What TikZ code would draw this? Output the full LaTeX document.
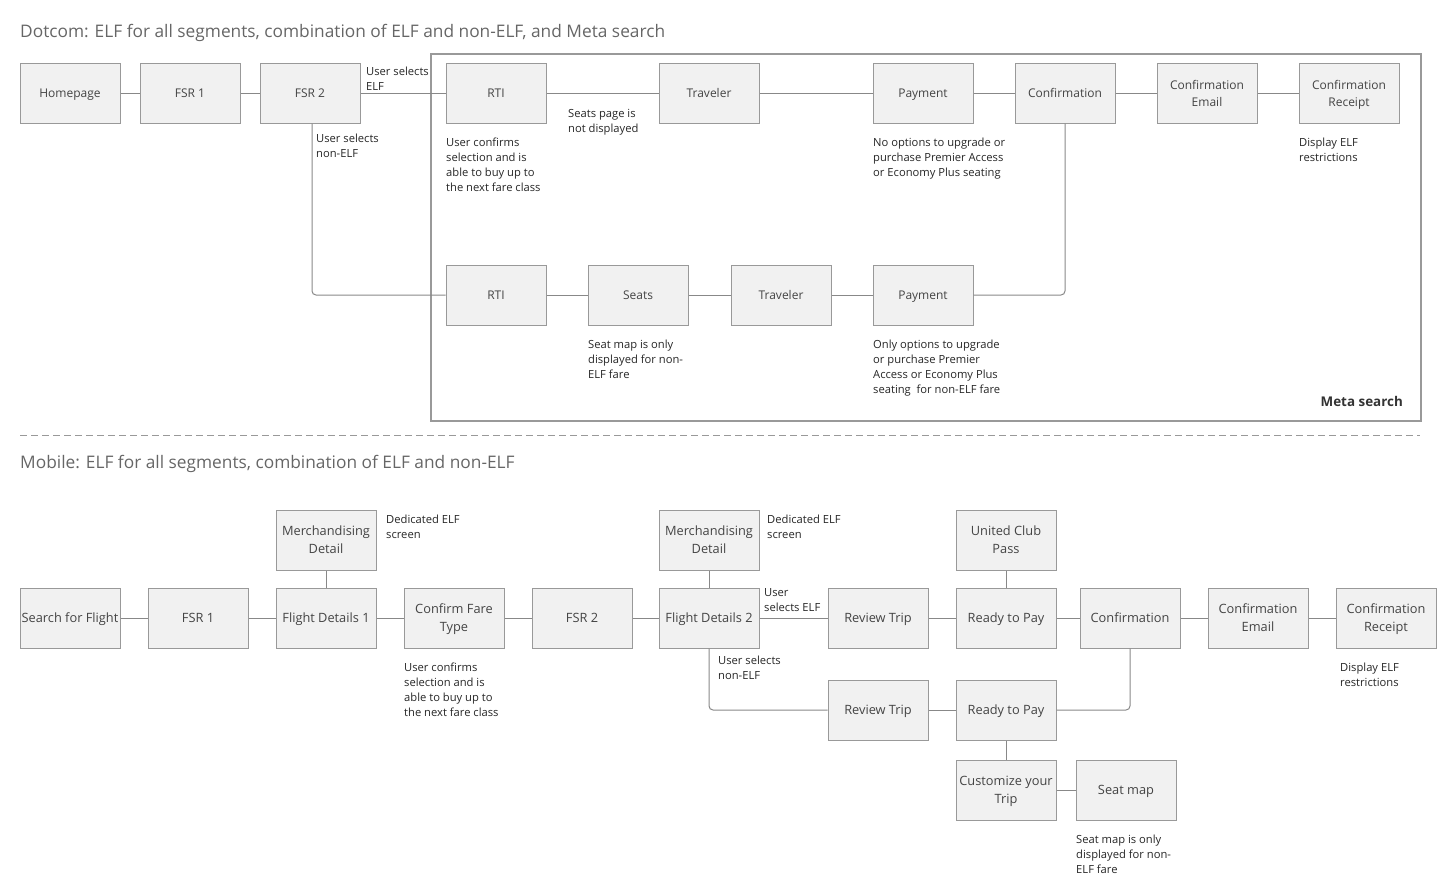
\documentclass[tikz,border=0pt]{standalone}
\usepackage{fontspec}
\setmainfont{Open Sans}
\definecolor{boxfill}{HTML}{F1F1F1}
\definecolor{boxline}{HTML}{999999}
\definecolor{connline}{HTML}{888888}
\definecolor{txt}{HTML}{444444}
\definecolor{ttl}{HTML}{666666}
\begin{document}
\begin{tikzpicture}[x=1pt,y=-1pt,
  screen/.style={draw=boxline, fill=boxfill, line width=1pt, minimum width=100pt, minimum height=60pt, inner sep=0pt, align=center, text depth=0pt, text=txt, font=\fontsize{12}{17}\selectfont},
  mscreen/.style={screen, font=\fontsize{12.8}{18}\selectfont},
  oneline/.style={text depth=-1pt},
  note/.style={anchor=north west, inner sep=0pt, align=left, text=black!85, font=\fontsize{11.2}{15}\selectfont},
  conn/.style={draw=connline, line width=1pt},
  elbow/.style={conn, rounded corners=4pt},
  heading/.style={anchor=west, inner sep=0pt, text=ttl, font=\fontsize{17.3}{20}\selectfont}]
\useasboundingbox (0,0) rectangle (1441,895);
% ---------- Dotcom ----------
\node[heading] (t1) at (20,33) {Dotcom: ELF for all segments, combination of ELF and non-ELF, and Meta search};
\node[draw=boxline, line width=2pt, minimum width=990pt, minimum height=367pt, inner sep=0pt, anchor=north west] (meta) at (430,53) {};
\node[anchor=base east, inner sep=0pt, text=black!80, font=\fontsize{13.4}{15}\selectfont\bfseries] (metalbl) at (1403,406) {Meta search};

\node[screen,oneline] (home) at (70,93) {Homepage};
\node[screen,oneline] (dfsr1) at (190,93) {FSR 1};
\node[screen,oneline] (dfsr2) at (310,93) {FSR 2};
\node[screen,oneline] (rti1) at (496,93) {RTI};
\node[screen,oneline] (trav1) at (709,93) {Traveler};
\node[screen,oneline] (pay1) at (923,93) {Payment};
\node[screen,oneline] (dconf) at (1065,93) {Confirmation};
\node[screen] (demail) at (1207,93) {Confirmation\\Email};
\node[screen] (drcpt) at (1349,93) {Confirmation\\Receipt};

\node[screen,oneline] (rti2) at (496,295) {RTI};
\node[screen,oneline] (seats) at (638,295) {Seats};
\node[screen,oneline] (trav2) at (781,295) {Traveler};
\node[screen,oneline] (pay2) at (923,295) {Payment};

\draw[conn] (home) -- (dfsr1);
\draw[conn] (dfsr1) -- (dfsr2);
\draw[conn] (dfsr2) -- (rti1);
\draw[conn] (rti1) -- (trav1);
\draw[conn] (trav1) -- (pay1);
\draw[conn] (pay1) -- (dconf);
\draw[conn] (dconf) -- (demail);
\draw[conn] (demail) -- (drcpt);
\draw[elbow] ([xshift=2pt]dfsr2.south) |- (rti2.west);
\draw[conn] (rti2) -- (seats);
\draw[conn] (seats) -- (trav2);
\draw[conn] (trav2) -- (pay2);
\draw[elbow] (pay2.east) -| (dconf.south);

\node[note] (n1) at (366,66.5) {User selects\\ELF};
\node[note] (n2) at (316,133.5) {User selects\\non-ELF};
\node[note] (n3) at (446,137.5) {User confirms\\selection and is\\able to buy up to\\the next fare class};
\node[note] (n4) at (568,109.5) {Seats page is\\not displayed};
\node[note] (n5) at (873,137.5) {No options to upgrade or\\purchase Premier Access\\or Economy Plus seating};
\node[note] (n6) at (1299,137.5) {Display ELF\\restrictions};
\node[note] (n7) at (588,339.5) {Seat map is only\\displayed for non-\\ELF fare};
\node[note] (n8) at (873,339.5) {Only options to upgrade\\or purchase Premier\\Access or Economy Plus\\seating\ \ for non-ELF fare};

% ---------- separator ----------
\coordinate (sepL) at (20,435);
\coordinate (sepR) at (1420,435);
\draw[draw=boxline, line width=1pt, dash pattern=on 7pt off 4pt] (sepL) -- (sepR);

% ---------- Mobile ----------
\node[heading] (t2) at (20,464) {Mobile: ELF for all segments, combination of ELF and non-ELF};

\node[mscreen,oneline] (search) at (70,618) {Search for Flight};
\node[mscreen,oneline] (mfsr1) at (198,618) {FSR 1};
\node[mscreen,oneline] (fd1) at (326,618) {Flight Details 1};
\node[mscreen] (cft) at (454,618) {Confirm Fare\\Type};
\node[mscreen,oneline] (mfsr2) at (582,618) {FSR 2};
\node[mscreen,oneline] (fd2) at (709,618) {Flight Details 2};
\node[mscreen,oneline] (rt1) at (878,618) {Review Trip};
\node[mscreen,oneline] (rtp1) at (1006,618) {Ready to Pay};
\node[mscreen,oneline] (mconf) at (1130,618) {Confirmation};
\node[mscreen] (memail) at (1258,618) {Confirmation\\Email};
\node[mscreen] (mrcpt) at (1386,618) {Confirmation\\Receipt};

\node[mscreen] (merch1) at (326,540) {Merchandising\\Detail};
\node[mscreen] (merch2) at (709,540) {Merchandising\\Detail};
\node[mscreen] (ucp) at (1006,540) {United Club\\Pass};

\node[mscreen,oneline] (rt2) at (878,710) {Review Trip};
\node[mscreen,oneline] (rtp2) at (1006,710) {Ready to Pay};
\node[mscreen] (cust) at (1006,790) {Customize your\\Trip};
\node[mscreen,oneline] (seatmap) at (1126,790) {Seat map};

\draw[conn] (search) -- (mfsr1);
\draw[conn] (mfsr1) -- (fd1);
\draw[conn] (fd1) -- (cft);
\draw[conn] (cft) -- (mfsr2);
\draw[conn] (mfsr2) -- (fd2);
\draw[conn] (fd2) -- (rt1);
\draw[conn] (rt1) -- (rtp1);
\draw[conn] (rtp1) -- (mconf);
\draw[conn] (mconf) -- (memail);
\draw[conn] (memail) -- (mrcpt);
\draw[conn] (merch1) -- (fd1);
\draw[conn] (merch2) -- (fd2);
\draw[conn] (ucp) -- (rtp1);
\draw[elbow] (fd2.south) |- (rt2.west);
\draw[conn] (rt2) -- (rtp2);
\draw[elbow] (rtp2.east) -| (mconf.south);
\draw[conn] (rtp2) -- (cust);
\draw[conn] (cust) -- (seatmap);

\node[note] (m1) at (386,514.5) {Dedicated ELF\\screen};
\node[note] (m2) at (767,514.5) {Dedicated ELF\\screen};
\node[note] (m3) at (764,588.5) {User\\selects ELF};
\node[note] (m4) at (718,655.5) {User selects\\non-ELF};
\node[note] (m5) at (404,662.5) {User confirms\\selection and is\\able to buy up to\\the next fare class};
\node[note] (m6) at (1340,662.5) {Display ELF\\restrictions};
\node[note] (m7) at (1076,834.5) {Seat map is only\\displayed for non-\\ELF fare};
\end{tikzpicture}
\end{document}
